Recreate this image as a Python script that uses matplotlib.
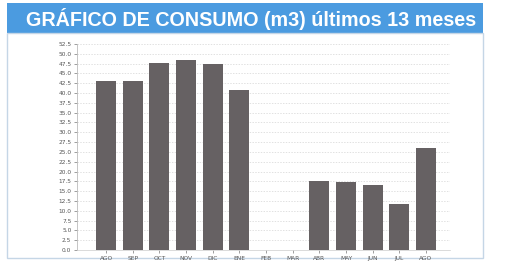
import matplotlib

matplotlib.use("Agg")
import matplotlib.pyplot as plt
from matplotlib.patches import Rectangle

# consumo mensual (m3)
months = ["AGO", "SEP", "OCT", "NOV", "DIC", "ENE", "FEB", "MAR",
          "ABR", "MAY", "JUN", "JUL", "AGO"]
consumo = [43.1, 43.0, 47.6, 48.4, 47.4, 40.9, 0.0, 0.0,
           17.7, 17.4, 16.5, 11.6, 25.9]
yticks = [i * 2.5 for i in range(22)]
ytick_labels = [f"{v:.1f}" for v in yticks]

TITLE = "GRÁFICO DE CONSUMO (m3) últimos 13 meses"
BLUE = "#4b9be0"
BAR = "#666163"

W, H = 511, 265
fig = plt.figure(figsize=(W / 100, H / 100), dpi=100)
fig.patch.set_facecolor("white")

# title bar + panel frame (figure coords)
fig.patches.append(Rectangle((7 / W, 1 - 33 / H), 476 / W, 30 / H,
                             transform=fig.transFigure, facecolor=BLUE,
                             edgecolor="none", zorder=0))
fig.patches.append(Rectangle((7 / W, 1 - 258 / H), 476 / W, 225 / H,
                             transform=fig.transFigure, facecolor="white",
                             edgecolor="#c5d6e6", lw=1.0, zorder=0))
fig.text(26 / W, 1 - 19 / H, TITLE, color="white", fontsize=14.2,
         fontweight="bold", family="Liberation Sans", va="center", ha="left")

ax = fig.add_axes([77 / W, 1 - 250 / H, 373 / W, 206 / H])
ax.set_zorder(5)
x = range(len(months))
ax.bar(x, consumo, width=0.75, color=BAR, zorder=3)
ax.set_xlim(-1.09, len(months) - 0.1)
ax.set_ylim(0, 52.5)
ax.set_yticks(yticks)
ax.set_yticklabels(ytick_labels)
ax.set_xticks(list(x))
ax.set_xticklabels(months)
ax.tick_params(axis="both", labelsize=4.2, colors="#555555", length=2, width=0.4, pad=2)
ax.grid(axis="y", color="#d4d4d4", lw=0.5, ls=(0, (2, 2)), zorder=0)
for s in ["top", "right"]:
    ax.spines[s].set_visible(False)
ax.spines["left"].set_color("#bbbbbb")
ax.spines["left"].set_linewidth(0.6)
ax.spines["bottom"].set_color("#cccccc")
ax.spines["bottom"].set_linewidth(0.5)
ax.set_facecolor("none")

fig.savefig("out.png", dpi=100)
